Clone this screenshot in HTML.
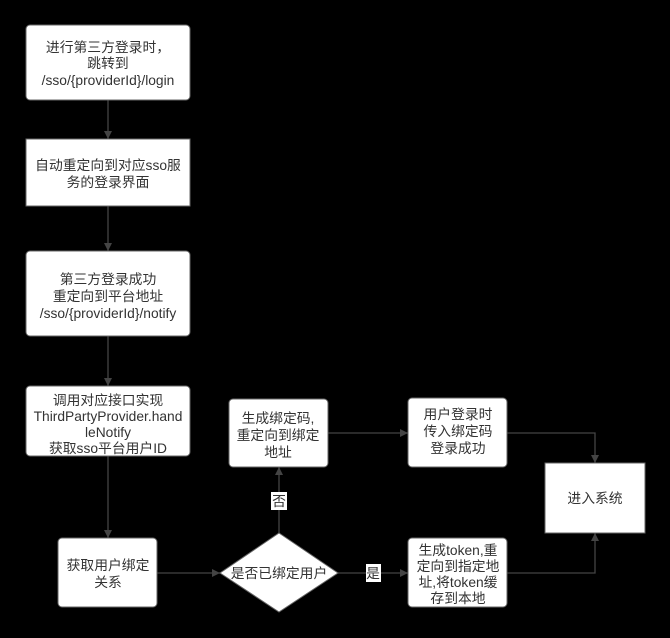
<!DOCTYPE html>
<html><head><meta charset="utf-8"><style>
html,body{margin:0;padding:0;background:#000;}
svg{display:block}
text{font-family:"Liberation Sans","Noto Sans CJK SC",sans-serif;font-size:13.8px;fill:#333;text-anchor:middle}
</style></head><body>
<svg width="670" height="638" viewBox="0 0 670 638" xmlns="http://www.w3.org/2000/svg">
<defs><marker id="a" markerWidth="10" markerHeight="10" refX="9" refY="5" orient="auto" markerUnits="userSpaceOnUse"><path d="M1,1 L9,5 L1,9 Z" fill="#444"/></marker></defs>
<g stroke="#444" stroke-width="1.3" fill="none" marker-end="url(#a)">
<path d="M108 100 V139"/>
<path d="M108 206 V251"/>
<path d="M108 336 V386"/>
<path d="M108 456 V538"/>
<path d="M157 573 H220"/>
<path d="M279 533 V467"/>
<path d="M338 573 H408"/>
<path d="M328 433 H408"/>
<path d="M507 433 H595 V463"/>
<path d="M507 573 H595 V533"/>
</g>
<g fill="#fff" stroke="#666" stroke-width="1">
<rect x="26" y="25" width="164" height="75" rx="4"/>
<rect x="26" y="139" width="164" height="67"/>
<rect x="26" y="251" width="164" height="85" rx="4"/>
<rect x="26" y="386" width="164" height="70" rx="4"/>
<rect x="58" y="538" width="99" height="69" rx="4"/>
<rect x="229" y="399" width="99" height="68" rx="4"/>
<rect x="408" y="398" width="99" height="69" rx="4"/>
<rect x="408" y="538" width="99" height="69" rx="4"/>
<rect x="545" y="463" width="100" height="70"/>
<path d="M279 533 L338 573 L279 612 L220 573 Z"/>
</g>
<rect x="271" y="492" width="16" height="18" fill="#fff"/>
<text x="279" y="506">否</text>
<rect x="366" y="564" width="15" height="18" fill="#fff"/>
<text x="373" y="578">是</text>
<text x="108" y="52">进行第三方登录时，</text>
<text x="108" y="68">跳转到</text>
<text x="108" y="85">/sso/{providerId}/login</text>
<text x="108" y="170">自动重定向到对应sso服</text>
<text x="108" y="187">务的登录界面</text>
<text x="108" y="284">第三方登录成功</text>
<text x="108" y="301">重定向到平台地址</text>
<text x="108" y="318">/sso/{providerId}/notify</text>
<text x="108" y="405">调用对应接口实现</text>
<text x="108" y="421">ThirdPartyProvider.hand</text>
<text x="108" y="437">leNotify</text>
<text x="108" y="453">获取sso平台用户ID</text>
<text x="108" y="570">获取用户绑定</text>
<text x="108" y="587">关系</text>
<text x="279" y="578">是否已绑定用户</text>
<text x="278" y="423">生成绑定码,</text>
<text x="278" y="440">重定向到绑定</text>
<text x="278" y="457">地址</text>
<text x="458" y="419">用户登录时</text>
<text x="458" y="436">传入绑定码</text>
<text x="458" y="453">登录成功</text>
<text x="595" y="503">进入系统</text>
<text x="458" y="555">生成token,重</text>
<text x="458" y="571">定向到指定地</text>
<text x="458" y="587">址,将token缓</text>
<text x="458" y="603">存到本地</text>
</svg>
</body></html>
